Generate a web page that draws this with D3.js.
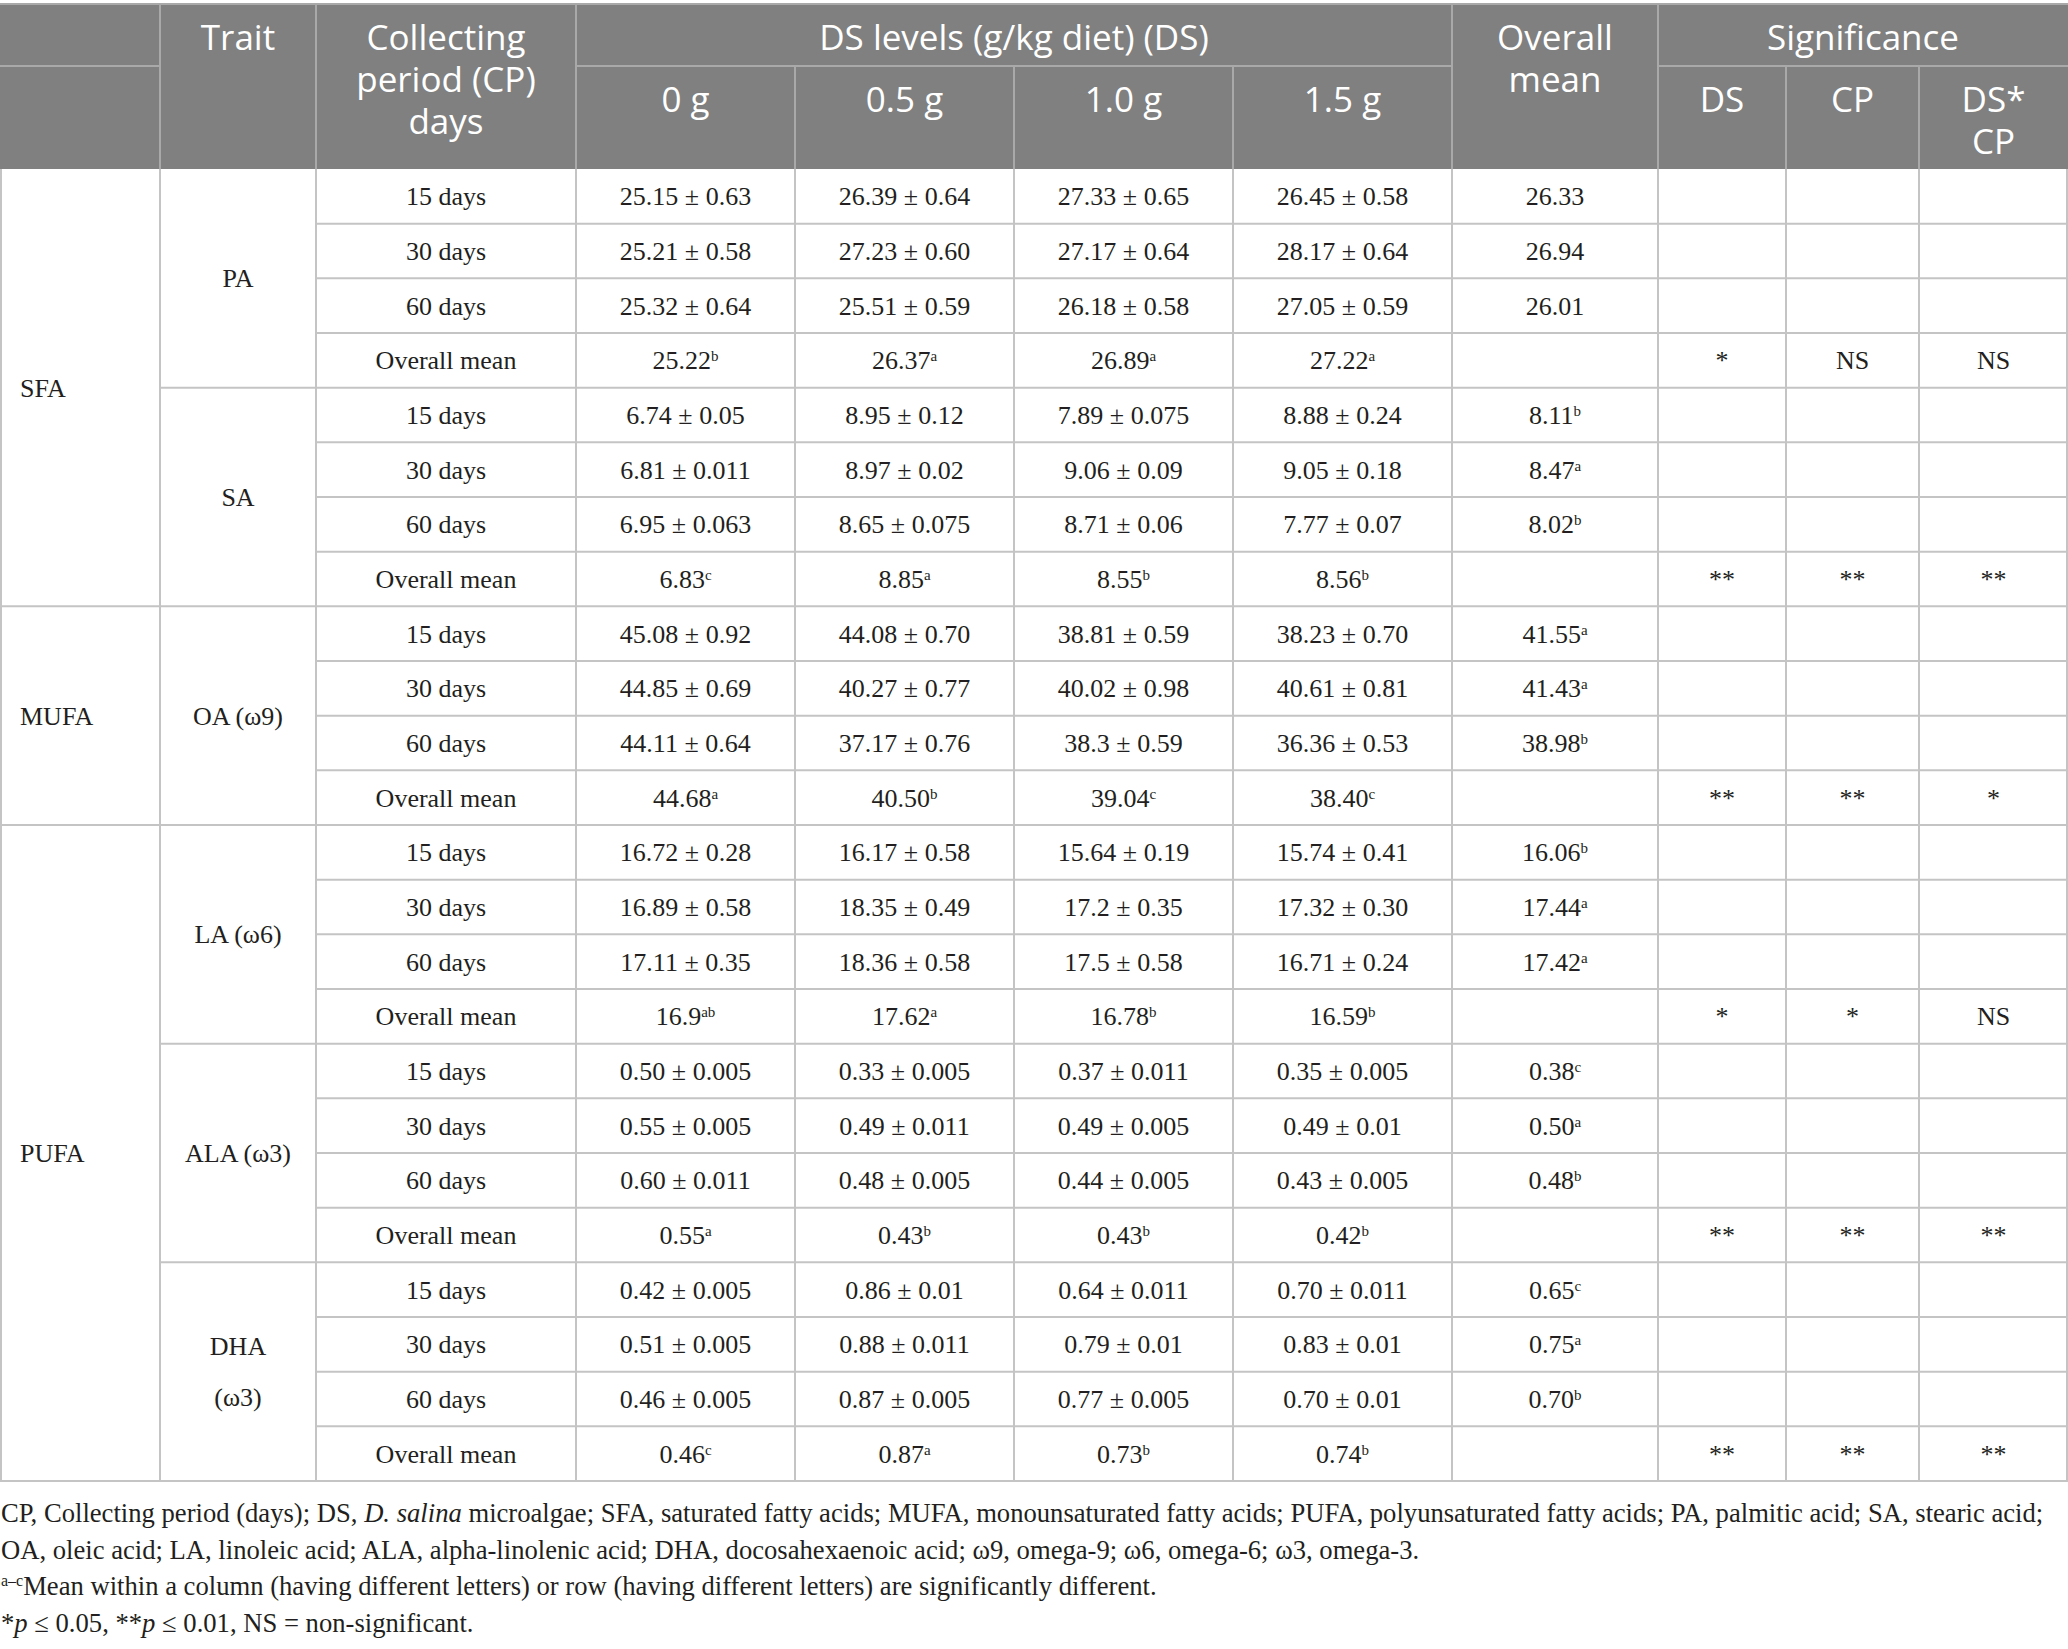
<!DOCTYPE html>
<html>
<head>
<meta charset="utf-8">
<script src="https://cdn.jsdelivr.net/npm/d3@7"></script>
<style>
  body { margin: 0; background: #fff; }
  .hd { font-family: "Open Sans", "Noto Sans", sans-serif; fill: #fff; font-size: 35px; }
  .bd { font-family: "Liberation Serif", "DejaVu Serif", serif; fill: #231f20; font-size: 26px; }
  .fn { font-family: "Liberation Serif", "DejaVu Serif", serif; fill: #231f20; }
</style>
</head>
<body>
<div id="table"></div>
<script>
// column headings
const dsLevels = ["0 g", "0.5 g", "1.0 g", "1.5 g"];
const sigCols = ["DS", "CP", "DS*"];
const periods = ["15 days", "30 days", "60 days", "Overall mean"];

// fatty acid classes and how many traits each one covers
const classes = ["SFA", "MUFA", "PUFA"];
const classTraitCount = [2, 1, 3];
const traits = [["PA"], ["SA"], ["OA (ω9)"], ["LA (ω6)"], ["ALA (ω3)"], ["DHA", "(ω3)"]];

// mean ± SE per collecting period (rows) and DS level (columns)
const paCells = [
  ["25.15 ± 0.63", "26.39 ± 0.64", "27.33 ± 0.65", "26.45 ± 0.58"],
  ["25.21 ± 0.58", "27.23 ± 0.60", "27.17 ± 0.64", "28.17 ± 0.64"],
  ["25.32 ± 0.64", "25.51 ± 0.59", "26.18 ± 0.58", "27.05 ± 0.59"]];
const saCells = [
  ["6.74 ± 0.05", "8.95 ± 0.12", "7.89 ± 0.075", "8.88 ± 0.24"],
  ["6.81 ± 0.011", "8.97 ± 0.02", "9.06 ± 0.09", "9.05 ± 0.18"],
  ["6.95 ± 0.063", "8.65 ± 0.075", "8.71 ± 0.06", "7.77 ± 0.07"]];
const oaCells = [
  ["45.08 ± 0.92", "44.08 ± 0.70", "38.81 ± 0.59", "38.23 ± 0.70"],
  ["44.85 ± 0.69", "40.27 ± 0.77", "40.02 ± 0.98", "40.61 ± 0.81"],
  ["44.11 ± 0.64", "37.17 ± 0.76", "38.3 ± 0.59", "36.36 ± 0.53"]];
const laCells = [
  ["16.72 ± 0.28", "16.17 ± 0.58", "15.64 ± 0.19", "15.74 ± 0.41"],
  ["16.89 ± 0.58", "18.35 ± 0.49", "17.2 ± 0.35", "17.32 ± 0.30"],
  ["17.11 ± 0.35", "18.36 ± 0.58", "17.5 ± 0.58", "16.71 ± 0.24"]];
const alaCells = [
  ["0.50 ± 0.005", "0.33 ± 0.005", "0.37 ± 0.011", "0.35 ± 0.005"],
  ["0.55 ± 0.005", "0.49 ± 0.011", "0.49 ± 0.005", "0.49 ± 0.01"],
  ["0.60 ± 0.011", "0.48 ± 0.005", "0.44 ± 0.005", "0.43 ± 0.005"]];
const dhaCells = [
  ["0.42 ± 0.005", "0.86 ± 0.01", "0.64 ± 0.011", "0.70 ± 0.011"],
  ["0.51 ± 0.005", "0.88 ± 0.011", "0.79 ± 0.01", "0.83 ± 0.01"],
  ["0.46 ± 0.005", "0.87 ± 0.005", "0.77 ± 0.005", "0.70 ± 0.01"]];

// overall mean per DS level (letter after ^ is the superscript)
const paDsMeans = ["25.22^b", "26.37^a", "26.89^a", "27.22^a"];
const saDsMeans = ["6.83^c", "8.85^a", "8.55^b", "8.56^b"];
const oaDsMeans = ["44.68^a", "40.50^b", "39.04^c", "38.40^c"];
const laDsMeans = ["16.9^ab", "17.62^a", "16.78^b", "16.59^b"];
const alaDsMeans = ["0.55^a", "0.43^b", "0.43^b", "0.42^b"];
const dhaDsMeans = ["0.46^c", "0.87^a", "0.73^b", "0.74^b"];

// overall mean per collecting period
const paCpMeans = ["26.33", "26.94", "26.01"];
const saCpMeans = ["8.11^b", "8.47^a", "8.02^b"];
const oaCpMeans = ["41.55^a", "41.43^a", "38.98^b"];
const laCpMeans = ["16.06^b", "17.44^a", "17.42^a"];
const alaCpMeans = ["0.38^c", "0.50^a", "0.48^b"];
const dhaCpMeans = ["0.65^c", "0.75^a", "0.70^b"];

// significance DS, CP, DS*CP
const paSig = ["*", "NS", "NS"];
const saSig = ["**", "**", "**"];
const oaSig = ["**", "**", "*"];
const laSig = ["*", "*", "NS"];
const alaSig = ["**", "**", "**"];
const dhaSig = ["**", "**", "**"];

const allCells = [paCells, saCells, oaCells, laCells, alaCells, dhaCells];
const allDsMeans = [paDsMeans, saDsMeans, oaDsMeans, laDsMeans, alaDsMeans, dhaDsMeans];
const allCpMeans = [paCpMeans, saCpMeans, oaCpMeans, laCpMeans, alaCpMeans, dhaCpMeans];
const allSig = [paSig, saSig, oaSig, laSig, alaSig, dhaSig];

// layout
const W = 2068, H = 1649;
const colEdges = [0, 160, 316, 576, 795, 1014, 1233, 1452, 1658, 1786, 1919, 2068];
const headTop = 4, headMid = 66, headBottom = 169, tableBottom = 1481;
const nRows = traits.length * periods.length;

const svg = d3.select("#table").append("svg")
  .attr("width", W).attr("height", H);

const col = d3.scaleOrdinal().domain(d3.range(colEdges.length)).range(colEdges);
const colMid = i => (col(i) + col(i + 1)) / 2;
const y = d3.scaleBand().domain(d3.range(nRows)).range([headBottom, tableBottom]);
const rowMid = (a, b) => (y(a) + y(b) + y.bandwidth()) / 2;

// header background
svg.append("rect")
  .attr("x", 0).attr("y", headTop)
  .attr("width", W).attr("height", headBottom - headTop)
  .attr("fill", "#808080");

const hLines = svg.append("g").attr("stroke", "#a9a9a9").attr("stroke-width", 2);
hLines.append("line").attr("x1", 0).attr("x2", W).attr("y1", headTop).attr("y2", headTop);
// horizontal line between header rows
[[0, 1], [3, 7], [8, 11]].forEach(([a, b]) => {
  hLines.append("line").attr("x1", col(a)).attr("x2", col(b))
    .attr("y1", headMid).attr("y2", headMid);
});
// vertical header separators
[1, 2, 3, 7, 8].forEach(i => {
  hLines.append("line").attr("x1", col(i)).attr("x2", col(i))
    .attr("y1", headTop).attr("y2", headBottom);
});
[4, 5, 6, 9, 10].forEach(i => {
  hLines.append("line").attr("x1", col(i)).attr("x2", col(i))
    .attr("y1", headMid).attr("y2", headBottom);
});

// header texts
const head = svg.append("g").attr("class", "hd").attr("text-anchor", "middle");
const r1 = 37, r2 = 99, lh = 42;
function headText(x, yc, lines) {
  lines.forEach((s, k) => {
    head.append("text").attr("x", x).attr("y", yc + k * lh).attr("dy", "0.36em").text(s);
  });
}
headText(colMid(1), r1, ["Trait"]);
headText(colMid(2), r1, ["Collecting", "period (CP)", "days"]);
headText((col(3) + col(7)) / 2, r1, ["DS levels (g/kg diet) (DS)"]);
dsLevels.forEach((d, i) => headText(colMid(3 + i), r2, [d]));
headText(colMid(7), r1, ["Overall", "mean"]);
headText((col(8) + col(11)) / 2, r1, ["Significance"]);
sigCols.forEach((d, i) => headText(colMid(8 + i), r2, i === 2 ? [d, "CP"] : [d]));

// body grid
const grid = svg.append("g").attr("stroke", "#c4c4c4").attr("stroke-width", 2);
const classStarts = [];
let acc = 0;
classTraitCount.forEach(n => { classStarts.push(acc * periods.length); acc += n; });

for (let r = 1; r < nRows; r++) {
  let from = 2;
  if (r % periods.length === 0) from = classStarts.includes(r) ? 0 : 1;
  grid.append("line").attr("x1", col(from)).attr("x2", W)
    .attr("y1", y(r)).attr("y2", y(r));
}
grid.append("line").attr("x1", 0).attr("x2", W).attr("y1", tableBottom).attr("y2", tableBottom);
colEdges.forEach((e, i) => {
  const xe = i === 0 ? 1 : (i === colEdges.length - 1 ? W - 1 : e);
  grid.append("line").attr("x1", xe).attr("x2", xe)
    .attr("y1", (i === 0 || i === colEdges.length - 1) ? headBottom : headBottom)
    .attr("y2", tableBottom);
});

// body texts
const body = svg.append("g").attr("class", "bd").attr("text-anchor", "middle");
function addValue(x, yc, str) {
  const [main, sup] = str.split("^");
  const t = body.append("text").attr("x", x).attr("y", yc).attr("dy", "0.34em");
  t.append("tspan").text(main);
  if (sup) t.append("tspan").attr("font-size", 15).attr("dy", -8).text(sup);
}

classes.forEach((c, ci) => {
  const start = classStarts[ci];
  const end = start + classTraitCount[ci] * periods.length - 1;
  body.append("text").attr("x", 20).attr("y", rowMid(start, end))
    .attr("dy", "0.34em").attr("text-anchor", "start").text(c);
});

traits.forEach((lines, ti) => {
  const start = ti * periods.length;
  const yc = rowMid(start, start + periods.length - 1);
  lines.forEach((s, k) => {
    body.append("text").attr("x", colMid(1))
      .attr("y", yc + (k - (lines.length - 1) / 2) * 51)
      .attr("dy", "0.34em").text(s);
  });
  periods.forEach((p, pi) => {
    const r = start + pi;
    const yc2 = y(r) + y.bandwidth() / 2;
    body.append("text").attr("x", colMid(2)).attr("y", yc2).attr("dy", "0.34em").text(p);
    if (pi < 3) {
      allCells[ti][pi].forEach((v, di) => addValue(colMid(3 + di), yc2, v));
      addValue(colMid(7), yc2, allCpMeans[ti][pi]);
    } else {
      allDsMeans[ti].forEach((v, di) => addValue(colMid(3 + di), yc2, v));
      allSig[ti].forEach((v, si) => addValue(colMid(8 + si), yc2, v));
    }
  });
});

// footnotes
const notes = svg.append("g").attr("class", "fn");
const noteBase = 1522, noteGap = 36.5;
let fs = 25;
const n1 = notes.append("text").attr("x", 1).attr("y", noteBase).attr("font-size", fs);
n1.append("tspan").text("CP, Collecting period (days); DS, ");
n1.append("tspan").attr("font-style", "italic").text("D. salina");
n1.append("tspan").text(" microalgae; SFA, saturated fatty acids; MUFA, monounsaturated fatty acids; PUFA, polyunsaturated fatty acids; PA, palmitic acid; SA, stearic acid;");
fs = fs * 2043 / n1.node().getComputedTextLength();
n1.attr("font-size", fs);

notes.append("text").attr("x", 1).attr("y", noteBase + noteGap).attr("font-size", fs)
  .text("OA, oleic acid; LA, linoleic acid; ALA, alpha-linolenic acid; DHA, docosahexaenoic acid; ω9, omega-9; ω6, omega-6; ω3, omega-3.");

const n3 = notes.append("text").attr("x", 1).attr("y", noteBase + 2 * noteGap).attr("font-size", fs);
n3.append("tspan").attr("font-size", fs * 0.6).attr("dy", -9).text("a–c");
n3.append("tspan").attr("dy", 9).text("Mean within a column (having different letters) or row (having different letters) are significantly different.");

const n4 = notes.append("text").attr("x", 1).attr("y", noteBase + 3 * noteGap).attr("font-size", fs);
n4.append("tspan").text("*");
n4.append("tspan").attr("font-style", "italic").text("p");
n4.append("tspan").text(" ≤ 0.05, **");
n4.append("tspan").attr("font-style", "italic").text("p");
n4.append("tspan").text(" ≤ 0.01, NS = non-significant.");
</script>
</body>
</html>
